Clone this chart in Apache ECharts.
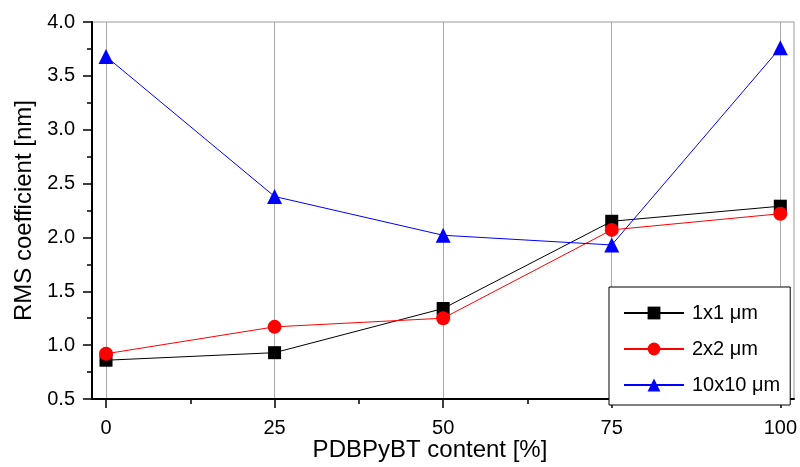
<!DOCTYPE html>
<html>
<head>
<meta charset="utf-8">
<script src="https://cdn.jsdelivr.net/npm/echarts@6/dist/echarts.min.js"></script>
<style>
  html, body { margin: 0; padding: 0; background: #fff; }
  #chart { width: 800px; height: 467px; }
</style>
</head>
<body>
<div id="chart"></div>
<script>
// PDBPyBT content [%]
const content = [0, 25, 50, 75, 100]
const rms1x1 = [0.86, 0.93, 1.34, 2.15, 2.29]
const rms2x2 = [0.92, 1.17, 1.25, 2.07, 2.22]
const rms10x10 = [3.68, 2.38, 2.02, 1.93, 3.76]
const seriesNames = ['1x1 \u03bcm', '2x2 \u03bcm', '10x10 \u03bcm']

const font = 'Liberation Sans, Arial, sans-serif'

const chart = echarts.init(document.getElementById('chart'), null, { renderer: 'canvas' })

const pairs = (ys) => content.map((x, i) => [x, ys[i]])

const options = {
    backgroundColor: '#ffffff',
    animation: false,
    // outer grid draws the frame and the y axis, inner grid holds the data
    grid: [
        { left: 92, right: 6, top: 22, bottom: 68, show: true, borderColor: '#999', borderWidth: 1 },
        { left: 106, right: 18, top: 22, bottom: 68 },
    ],
    xAxis: [
        {
            gridIndex: 0, type: 'value', min: 0, max: 1,
            axisLine: { show: true, lineStyle: { color: '#000', width: 2 } },
            axisTick: { show: false }, axisLabel: { show: false }, splitLine: { show: false },
            name: 'PDBPyBT content [%]', nameLocation: 'middle', nameGap: 39,
            nameTextStyle: { color: '#000', fontSize: 24, fontFamily: font, padding: [0, 26, 0, 0] },
        },
        {
            gridIndex: 1, type: 'value', min: 0, max: 100, interval: 25,
            axisLine: { show: false },
            axisTick: { show: true, inside: false, length: 9, lineStyle: { color: '#000', width: 1.5 } },
            minorTick: { show: true, splitNumber: 2, length: 5, lineStyle: { color: '#000', width: 1.5 } },
            axisLabel: { color: '#000', fontSize: 20, fontFamily: font, margin: 19 },
            splitLine: { show: true, lineStyle: { color: '#aaa', width: 1 } },
        },
    ],
    yAxis: [
        {
            gridIndex: 0, type: 'value', min: 0.5, max: 4.0, interval: 0.5,
            axisLine: { show: true, lineStyle: { color: '#000', width: 2 } },
            axisTick: { show: true, inside: false, length: 9, lineStyle: { color: '#000', width: 1.5 } },
            minorTick: { show: true, splitNumber: 2, length: 5, lineStyle: { color: '#000', width: 1.5 } },
            axisLabel: {
                color: '#000', fontSize: 20, fontFamily: font, margin: 17,
                formatter: (v) => v.toFixed(1),
            },
            splitLine: { show: false },
            name: 'RMS coefficient [nm]', nameLocation: 'middle', nameGap: 54, nameRotate: 90,
            nameTextStyle: { color: '#000', fontSize: 24, fontFamily: font },
        },
        {
            gridIndex: 1, type: 'value', min: 0.5, max: 4.0, show: false,
        },
    ],
    legend: {
        left: 609, top: 287, width: 185, height: 112,
        orient: 'vertical',
        padding: [16, 10, 10, 14],
        itemWidth: 60, itemHeight: 16, itemGap: 16,
        backgroundColor: '#fff', borderColor: '#000', borderWidth: 1,
        textStyle: { color: '#000', fontSize: 20, fontFamily: font, padding: [0, 0, 0, 3] },
        data: seriesNames,
    },
    series: [
        {
            name: seriesNames[0], type: 'line', xAxisIndex: 1, yAxisIndex: 1,
            data: pairs(rms1x1), symbol: 'rect', symbolSize: 13,
            lineStyle: { color: '#000', width: 1 }, itemStyle: { color: '#000' }, z: 3,
        },
        {
            name: seriesNames[1], type: 'line', xAxisIndex: 1, yAxisIndex: 1,
            data: pairs(rms2x2), symbol: 'circle', symbolSize: 14,
            lineStyle: { color: '#ff0000', width: 1 }, itemStyle: { color: '#ff0000' }, z: 4,
        },
        {
            name: seriesNames[2], type: 'line', xAxisIndex: 1, yAxisIndex: 1,
            data: pairs(rms10x10), symbol: 'triangle', symbolSize: 15,
            lineStyle: { color: '#0000ff', width: 1 }, itemStyle: { color: '#0000ff' }, z: 5,
        },
    ],
}

chart.setOption(options)
</script>
</body>
</html>
